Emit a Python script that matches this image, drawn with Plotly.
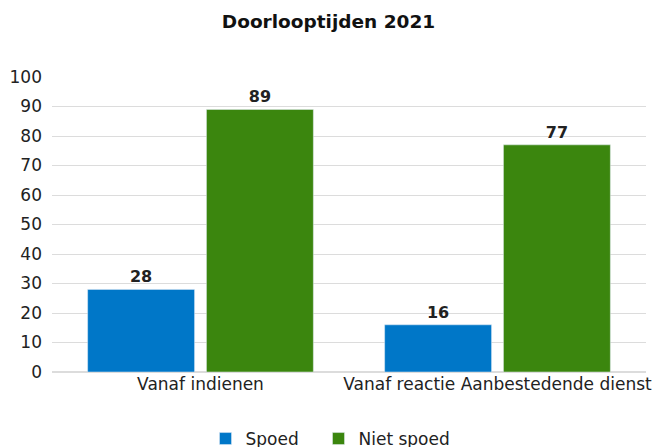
import plotly.graph_objects as go

categories = ["Vanaf indienen", "Vanaf reactie Aanbestedende dienst"]
spoed = [28, 16]
niet_spoed = [89, 77]
series_names = ["Spoed", "Niet spoed"]
colors = ["#0077c8", "#3b860e"]
title = "Doorlooptijden 2021"

font_family = "DejaVu Sans, sans-serif"

W, H = 657, 447
legend_refs = ["legend", "legend2"]

fig = go.Figure()
for name, vals, col, lg in zip(series_names, [spoed, niet_spoed], colors, legend_refs):
    fig.add_trace(go.Bar(
        x=categories, y=vals, name=name, marker_color=col,
        text=[str(v) for v in vals], textposition="outside",
        textfont=dict(size=16, color="#222222", family=font_family, weight="bold"),
        cliponaxis=False, legend=lg,
    ))

legend_style = dict(orientation="h", xanchor="left",
                    y=-(433 - 372 - 12) / 295, yanchor="top",
                    font=dict(size=17, color="#222222"), itemwidth=30,
                    bgcolor="rgba(0,0,0,0)")

fig.update_layout(
    width=W, height=H,
    margin=dict(l=52, r=11, t=77, b=75, autoexpand=False),
    paper_bgcolor="white", plot_bgcolor="white",
    barmode="group", bargap=0.2, bargroupgap=0.1,
    title=dict(text="<b>" + title + "</b>", x=0.5, xanchor="center",
               y=1 - 22 / H, yanchor="middle",
               font=dict(size=18.5, color="#111111", family=font_family)),
    font=dict(family=font_family, size=17, color="#222222"),
    yaxis=dict(range=[0, 100], dtick=10, showgrid=True, gridcolor="#dcdcdc", gridwidth=1,
               zeroline=True, zerolinecolor="#dcdcdc", ticks="", ticklabelstandoff=9,
               tickfont=dict(size=17, color="#222222")),
    xaxis=dict(showline=False, ticks="", tickfont=dict(size=17, color="#222222")),
    legend=dict(x=(205.5 - 52) / 594, **legend_style),
    legend2=dict(x=(318.5 - 52) / 594, **legend_style),
    showlegend=True,
)

fig.write_html(
    "out.html",
    config={"displayModeBar": False},
    post_script="document.body.style.margin='0';document.body.style.overflow='hidden';",
)
